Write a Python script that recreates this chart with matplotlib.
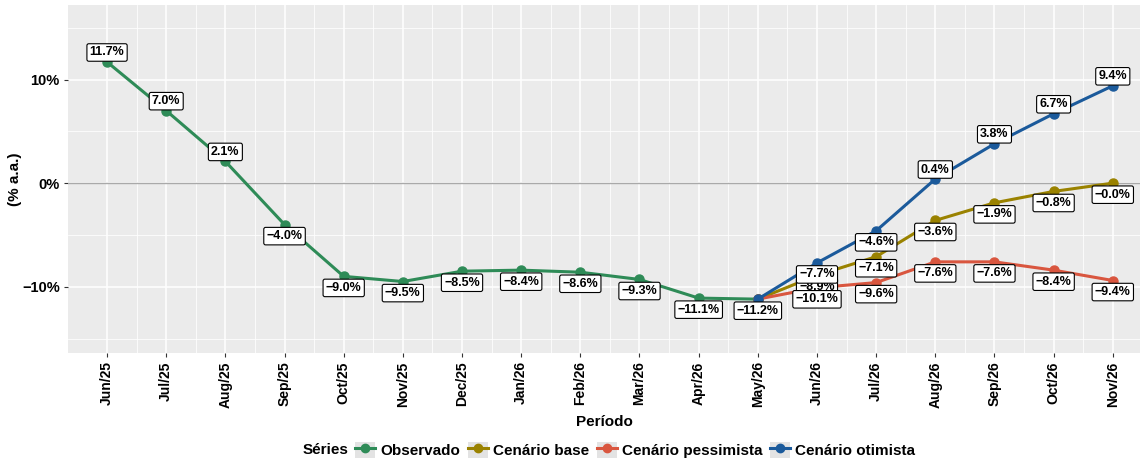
import numpy as np
import matplotlib.pyplot as plt
from matplotlib.lines import Line2D
from matplotlib.patches import Rectangle

# data (% a.a.)
months = ['Jun/25', 'Jul/25', 'Aug/25', 'Sep/25', 'Oct/25', 'Nov/25', 'Dec/25',
          'Jan/26', 'Feb/26', 'Mar/26', 'Apr/26', 'May/26', 'Jun/26', 'Jul/26',
          'Aug/26', 'Sep/26', 'Oct/26', 'Nov/26']
observado = [11.7, 7.0, 2.1, -4.0, -9.0, -9.5, -8.5, -8.4, -8.6, -9.3, -11.1, -11.2]
base = [-11.2, -8.9, -7.1, -3.6, -1.9, -0.8, -0.0]
pessimista = [-11.2, -10.1, -9.6, -7.6, -7.6, -8.4, -9.4]
otimista = [-11.2, -7.7, -4.6, 0.4, 3.8, 6.7, 9.4]

series = [
    ('Observado', observado, 0, '#2E8B57'),
    ('Cenário base', base, 11, '#9A8200'),
    ('Cenário pessimista', pessimista, 11, '#D9563F'),
    ('Cenário otimista', otimista, 11, '#1B5A9B'),
]

plt.rcParams['font.family'] = ['Liberation Sans', 'DejaVu Sans']

fig = plt.figure(figsize=(11.46, 4.58), dpi=100)
ax = fig.add_axes([68/1146, 1 - 353/458, (1140 - 68)/1146, (353 - 5)/458])

ax.set_facecolor('#EBEBEB')
for s in ax.spines.values():
    s.set_visible(False)

x_all = np.arange(len(months))
ax.set_xlim(-0.66, 17.46)
ax.set_ylim(-16.4, 17.2)

# grid like ggplot
ax.set_xticks(x_all)
ax.set_xticks(x_all[:-1] + 0.5, minor=True)
ax.set_yticks([-10, 0, 10])
ax.set_yticks([-15, -5, 5, 15], minor=True)
ax.grid(which='major', color='white', linewidth=1.1)
ax.grid(which='minor', color='white', linewidth=0.55)
ax.set_axisbelow(True)
ax.axhline(0, color='#A9A9A9', linewidth=1.0, zorder=1)

ax.set_xticklabels(months, rotation=90, fontsize=10, fontweight='bold')
ax.set_yticklabels(['\u221210%', '0%', '10%'], fontsize=10.5, fontweight='bold')
ax.tick_params(which='major', length=3, color='#333333', pad=3)
ax.tick_params(which='minor', length=0)

z = 3
for name, vals, start, col in series:
    xs = x_all[start:start + len(vals)]
    ax.plot(xs, vals, color=col, linewidth=2.2, marker='o', markersize=6.5, zorder=z)
    z += 1

# value labels
z = 10
for name, vals, start, col in series:
    xs = x_all[start:start + len(vals)]
    for i, (xv, v) in enumerate(zip(xs, vals)):
        if start > 0 and i == 0:
            continue
        txt = f'{v:.1f}%'.replace('-', '\u2212')
        dy = 2.5 if v > 0 else -4
        ax.annotate(txt, (xv, v), xytext=(0, dy), textcoords='offset points',
                    ha='center', va='bottom' if v > 0 else 'top',
                    fontsize=9, fontweight='bold', zorder=z,
                    bbox=dict(boxstyle='round,pad=0.22,rounding_size=0.15',
                              fc='white', ec='black', lw=0.8))
        z += 1

ax.set_xlabel('Período', fontsize=11, fontweight='bold', labelpad=5)
ax.set_ylabel('(% a.a.)', fontsize=11, fontweight='bold')
ax.yaxis.set_label_coords((22 - 68) / 1072, 0.5)

# legend at the bottom, keys on grey squares
handles = [(Rectangle((0, 0), 1, 1, fc='#E3E3E3', ec='none'),
            Line2D([0], [0], color=col, linewidth=2.2, marker='o', markersize=6))
           for name, vals, start, col in series]
labels = [name for name, vals, start, col in series]
leg = fig.legend(handles, labels, loc='center left', bbox_to_anchor=(355/1146, 1 - 450/458),
                 ncol=4, frameon=False, handlelength=1.3, handleheight=1.3,
                 handletextpad=0.35, columnspacing=0.5, borderaxespad=0, borderpad=0,
                 prop={'weight': 'bold', 'size': 11})
fig.text(303/1146, 1 - 450/458, 'Séries', fontsize=11, fontweight='bold',
         ha='left', va='center')

fig.savefig('out.png', dpi=100)
